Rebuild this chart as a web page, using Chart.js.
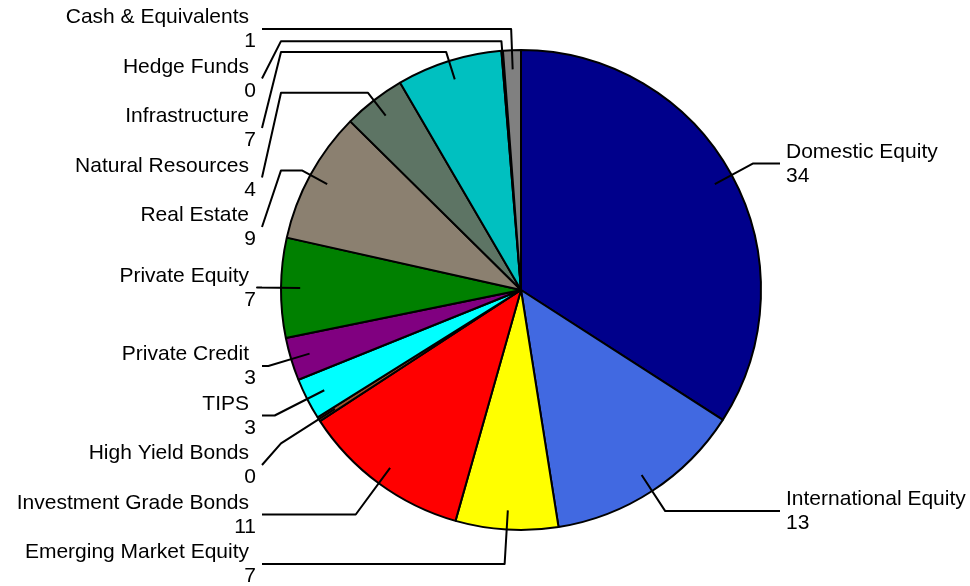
<!DOCTYPE html>
<html>
<head>
<meta charset="utf-8">
<script src="https://cdn.jsdelivr.net/npm/chart.js@4.4.1/dist/chart.umd.min.js"></script>
<style>
  html, body { margin: 0; padding: 0; background: #fff; }
  #wrap { width: 970px; height: 586px; position: relative; }
</style>
</head>
<body>
<div id="wrap"><canvas id="pie"></canvas></div>
<script>
// Asset allocation, percent of portfolio (clockwise from 12 o'clock)
const categories = [
    'Domestic Equity', 'International Equity', 'Emerging Market Equity',
    'Investment Grade Bonds', 'High Yield Bonds', 'TIPS', 'Private Credit',
    'Private Equity', 'Real Estate', 'Natural Resources', 'Infrastructure',
    'Hedge Funds', 'Cash & Equivalents'
];
const allocation = [34.1, 13.4, 6.9, 11.4, 0.3, 2.8, 2.9, 6.7, 8.9, 4.2, 7.1, 0.1, 1.2];
const sliceColors = [
    '#00008B', '#4169E1', '#FFFF00', '#FF0000', '#A0522D', '#00FFFF', '#800080',
    '#008000', '#8B8070', '#5D7464', '#00C0C0', '#2F4F4F', '#808080'
];

const FONT = "21px 'Liberation Sans', Arial, sans-serif";
const LABEL_GAP = 49.5;   // min vertical distance between stacked labels
const TOP_LIMIT = 29;
const BOTTOM_LIMIT = 564;

// Outside labels with bent leader lines
const leaderLabels = {
    id: 'leaderLabels',
    afterDatasetsDraw(chart) {
        const ctx = chart.ctx;
        const arcs = chart.getDatasetMeta(0).data;
        const items = arcs.map((arc, i) => {
            const p = arc.getProps(['x', 'y', 'startAngle', 'endAngle', 'outerRadius'], true);
            const mid = (p.startAngle + p.endAngle) / 2;
            const R = p.outerRadius;
            return {
                i, mid, R, cx: p.x, cy: p.y,
                left: Math.cos(mid) < 0,
                want: p.y + 1.1 * R * Math.sin(mid),
            };
        });

        // stack each side top-down, then pull back from the bottom edge
        for (const side of [true, false]) {
            const list = items.filter(it => it.left === side).sort((a, b) => a.want - b.want);
            let prev = -Infinity;
            list.forEach(it => {
                it.y = Math.max(it.want, prev + LABEL_GAP, TOP_LIMIT);
                prev = it.y;
            });
            let next = Infinity;
            for (let k = list.length - 1; k >= 0; k--) {
                list[k].y = Math.min(list[k].y, next - LABEL_GAP, BOTTOM_LIMIT);
                next = list[k].y;
            }
        }

        ctx.save();
        ctx.strokeStyle = '#000';
        ctx.lineWidth = 2;
        ctx.lineJoin = 'round';
        ctx.fillStyle = '#000';
        ctx.font = FONT;
        items.forEach(it => {
            const { mid, R, cx, cy } = it;
            const c = Math.cos(mid), s = Math.sin(mid);
            const dir = it.left ? -1 : 1;
            const at = r => ({ x: cx + r * c, y: cy + r * s });
            const anchor = at(0.92 * R);
            const edgeX = cx + dir * R;
            const endX = cx + dir * (R + 19);
            const pts = [anchor];

            const rY = s !== 0 ? (it.y - cy) / s : Infinity;
            if (rY >= R && rY <= 1.2 * R) {
                // radial segment meets the label row directly
                pts.push(at(rY));
            } else if (Math.abs(it.y - cy) < Math.abs(it.want - cy) - 1) {
                // label pushed toward the middle: short stub, run to the rim column
                const e = at(1.04 * R);
                pts.push(e, { x: edgeX, y: e.y });
            } else {
                const rX = Math.min(R / Math.abs(c), 1.2 * R);
                pts.push(at(rX));
            }
            pts.push({ x: endX, y: it.y });

            ctx.beginPath();
            ctx.moveTo(pts[0].x, pts[0].y);
            for (let k = 1; k < pts.length; k++) ctx.lineTo(pts[k].x, pts[k].y);
            ctx.stroke();

            const name = categories[it.i];
            const value = String(Math.round(allocation[it.i]));
            ctx.textBaseline = 'alphabetic';
            if (it.left) {
                ctx.textAlign = 'right';
                ctx.fillText(name, endX - 13, it.y - 6);
                ctx.fillText(value, endX - 6, it.y + 18);
            } else {
                ctx.textAlign = 'left';
                ctx.fillText(name, endX + 6, it.y - 6);
                ctx.fillText(value, endX + 6, it.y + 18);
            }
        });
        ctx.restore();
    }
};

new Chart(document.getElementById('pie'), {
    type: 'pie',
    data: {
        labels: categories,
        datasets: [{
            data: allocation,
            backgroundColor: sliceColors,
            borderColor: '#000',
            borderWidth: 2,
            hoverOffset: 0,
        }],
    },
    options: {
        responsive: true,
        maintainAspectRatio: false,
        animation: false,
        layout: { padding: { left: 280, right: 208, top: 49, bottom: 55 } },
        plugins: {
            legend: { display: false },
            tooltip: { enabled: false },
        },
    },
    plugins: [leaderLabels],
});
</script>
</body>
</html>
